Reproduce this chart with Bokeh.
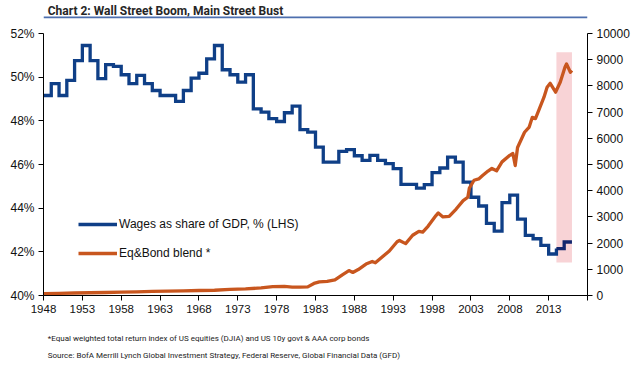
from bokeh.plotting import figure
from bokeh.layouts import column
from bokeh.models import (LinearAxis, Range1d, FixedTicker, Legend, LegendItem,
                          Label, BoxAnnotation)
from bokeh.embed import file_html
from bokeh.resources import INLINE

# ---------------- data ----------------
wage_years = list(range(1948, 2016))
wage_share = [
    49.16, 49.70, 49.16, 49.85, 50.76, 51.45, 50.76, 49.93, 50.57, 50.49,  # 1948-57
    50.11, 49.70, 50.08, 49.70, 49.39, 49.16, 49.16, 48.89, 49.39, 49.96,  # 1958-67
    50.18, 50.84, 51.45, 50.34, 50.11, 49.77, 50.11, 48.55, 48.40, 48.10,  # 1968-77
    47.97, 48.37, 48.67, 47.60, 47.48, 46.80, 46.11, 46.11, 46.60, 46.68,  # 1978-87
    46.40, 46.19, 46.42, 46.19, 46.04, 45.81, 45.09, 45.09, 44.92, 45.08,  # 1988-97
    45.63, 45.84, 46.34, 46.11, 45.19, 44.50, 44.10, 43.30, 42.95, 44.25,  # 1998-2007
    44.60, 43.50, 42.75, 42.60, 42.30, 41.90, 42.15, 42.45,                # 2008-15
]

eq_years = [
    1948.0, 1950.0, 1952.0, 1954.0, 1956.0, 1958.0, 1960.0, 1962.0, 1964.0, 1966.0,
    1968.0, 1970.0, 1972.0, 1974.0, 1976.0, 1977.5, 1979.0, 1980.0, 1981.0, 1982.0,
    1982.8, 1983.5, 1984.5, 1985.5, 1986.5, 1987.3, 1987.8, 1988.5, 1989.5, 1990.3,
    1990.7, 1991.5, 1992.5, 1993.5, 1993.8, 1994.6, 1995.5, 1996.3, 1996.8, 1997.5,
    1998.5, 1998.8, 1999.4, 2000.2, 2001.1, 2002.0, 2002.6, 2002.8, 2003.4, 2004.0,
    2004.5, 2005.2, 2005.7, 2006.3, 2007.0, 2008.0, 2008.4, 2008.7, 2009.0, 2009.9,
    2010.5, 2010.9, 2011.3, 2011.7, 2012.4, 2012.8, 2013.2, 2013.9, 2014.5, 2015.1,
    2015.3, 2015.8, 2016.0,
]
eq_values = [
    70, 80, 95, 105, 115, 125, 140, 155, 165, 175,
    190, 200, 230, 250, 290, 340, 345, 320, 320, 330,
    460, 520, 540, 600, 800, 950, 880, 990, 1200, 1300,
    1250, 1450, 1700, 2050, 2100, 1980, 2300, 2450, 2420, 2650,
    3050, 3150, 3000, 3020, 3300, 3620, 3750, 4100, 4400, 4450,
    4580, 4750, 4850, 4760, 5100, 5350, 5420, 4960, 5650, 6230,
    6430, 6800, 6750, 7050, 7570, 7950, 8100, 7760, 8150, 8710,
    8840, 8520, 8590,
]

x_ticks = list(range(1948, 2019, 5))
x_tick_labels = [str(t) for t in range(1948, 2014, 5)] + [""]
left_ticks = [40, 42, 44, 46, 48, 50, 52]
left_tick_labels = ["40%", "42%", "44%", "46%", "48%", "50%", "52%"]
right_ticks = list(range(0, 10001, 1000))

highlight_years = (2014, 2016)
highlight_eq = (1260, 9280)

title_text = "Chart 2: Wall Street Boom, Main Street Bust"
note1 = "*Equal weighted total return index of US equities (DJIA) and US 10y govt & AAA corp bonds"
note2 = "Source: BofA Merrill Lynch Global Investment Strategy, Federal Reserve, Global Financial Data (GFD)"
legend_labels = ["Wages as share of GDP, % (LHS)", "Eq&Bond blend *"]

# ---------------- styling ----------------
BLUE = "#0f3f87"
NAVY = "#13276e"
ORANGE = "#c8561e"
FONT = "Liberation Sans"
W = 640
TOP_H, MAIN_H, BOT_H = 20, 305, 40


def bare_figure(h):
    f = figure(width=W, height=h, x_range=Range1d(0, W), y_range=Range1d(0, h),
               x_axis_type=None, y_axis_type=None, output_backend="svg",
               toolbar_location=None, title_location=None, min_border=0)
    f.min_border_left = f.min_border_right = f.min_border_top = f.min_border_bottom = 0
    f.outline_line_color = None
    f.background_fill_color = "white"
    f.border_fill_color = "white"
    return f


# ---- header: title + rule ----
top = bare_figure(TOP_H)
top.add_layout(Label(x=5, y=TOP_H - 10, text=title_text, text_font="Roboto",
                     text_font_style="bold", text_font_size="12px", text_color="#262626",
                     text_baseline="alphabetic"))
top.add_layout(BoxAnnotation(left=0, right=W, bottom=TOP_H - 17.8, top=TOP_H - 16.0,
                             fill_color="#4d6fae", fill_alpha=1.0, line_color=None))

# ---- main chart ----
p = figure(width=W, height=MAIN_H, x_range=Range1d(1948, 2018), y_range=Range1d(40, 52),
           output_backend="svg", toolbar_location=None, title_location=None,
           min_border_left=43, min_border_right=53, min_border_top=13, min_border_bottom=30)
p.outline_line_color = None
p.xgrid.visible = False
p.ygrid.visible = False
p.background_fill_color = "white"
p.border_fill_color = "white"

p.extra_y_ranges = {"eq": Range1d(0, 10000)}

p.add_layout(BoxAnnotation(left=highlight_years[0], right=highlight_years[1],
                           bottom=highlight_eq[0], top=highlight_eq[1], y_range_name="eq",
                           fill_color="#f8d3d6", fill_alpha=1.0, line_color=None,
                           level="underlay"))

i14 = wage_years.index(2014)
main_x = wage_years[:i14 + 1]
main_y = wage_share[:i14 + 1]
last_x = wage_years[i14:] + [wage_years[-1] + 1]
last_y = wage_share[i14:] + [wage_share[-1]]
r_w = p.step(main_x, main_y, mode="after", line_width=3.3, line_color=BLUE, line_join="miter")
p.step(last_x, last_y, mode="after", line_width=3.3, line_color=NAVY, line_join="miter")

r_e = p.line(eq_years, eq_values, y_range_name="eq", line_width=3.3, line_color=ORANGE,
             line_join="round")


def style_axis(ax, size):
    ax.axis_line_color = "black"
    ax.axis_line_width = 1
    ax.major_tick_line_color = "black"
    ax.major_tick_in = 0
    ax.major_tick_out = 5
    ax.minor_tick_line_color = None
    ax.major_label_text_font = FONT
    ax.major_label_text_font_size = size
    ax.major_label_text_color = "#111111"
    ax.major_label_standoff = 4


xa = p.xaxis[0]
xa.ticker = FixedTicker(ticks=x_ticks)
xa.major_label_overrides = {t: l for t, l in zip(x_ticks, x_tick_labels)}
style_axis(xa, "11.5px")

ya = p.yaxis[0]
ya.ticker = FixedTicker(ticks=left_ticks)
ya.major_label_overrides = {t: l for t, l in zip(left_ticks, left_tick_labels)}
style_axis(ya, "12px")

ra = LinearAxis(y_range_name="eq", ticker=FixedTicker(ticks=right_ticks))
style_axis(ra, "12px")
p.add_layout(ra, "right")

legend = Legend(items=[LegendItem(label=legend_labels[0], renderers=[r_w]),
                       LegendItem(label=legend_labels[1], renderers=[r_e])],
                location=(35, 32), glyph_width=39, glyph_height=20, label_height=20,
                spacing=9, padding=0, margin=0, border_line_color=None,
                background_fill_alpha=0, label_standoff=2,
                label_text_font=FONT, label_text_font_size="12px",
                label_text_color="#111111")
p.add_layout(legend)

# ---- footer: notes ----
bot = bare_figure(BOT_H)
bot.add_layout(Label(x=5, y=BOT_H - 13, text=note1, text_font="Roboto",
                     text_font_size="8px", text_color="#222222", text_baseline="alphabetic"))
bot.add_layout(Label(x=5, y=BOT_H - 30, text=note2, text_font="Roboto",
                     text_font_size="8px", text_color="#222222", text_baseline="alphabetic"))

layout = column(top, p, bot, spacing=0)
open("out.html", "w").write(file_html(layout, INLINE))
